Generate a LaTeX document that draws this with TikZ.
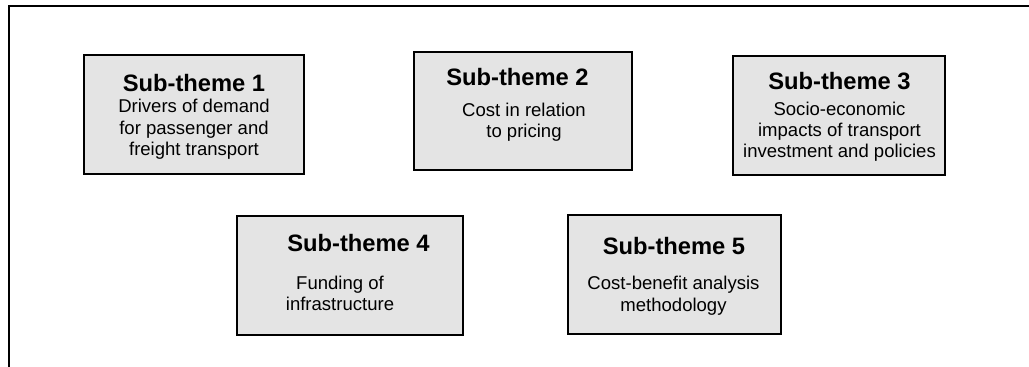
\documentclass[tikz,border=0pt]{standalone}
\usepackage{fontspec}
\setmainfont{Liberation Sans}
\usepackage{tikz}
\usetikzlibrary{positioning}

\definecolor{boxgray}{RGB}{228,228,228}

\tikzset{
  theme/.style={draw=black, fill=boxgray, line width=1.5pt, inner sep=0pt},
  heading/.style={anchor=base, inner sep=0pt, font=\fontsize{17.8}{20}\selectfont\bfseries},
  blurb/.style={anchor=base, inner sep=0pt, align=center, font=\fontsize{13.9}{16.1}\selectfont}
}

\begin{document}
\begin{tikzpicture}[x=0.75pt,y=-0.75pt]

  \useasboundingbox (0,0) rectangle (1029,367);

  \coordinate (frame_nw) at (9,6);
  \coordinate (frame_ne) at (1029,6);
  \coordinate (frame_sw) at (9,367);
  \draw[line width=1.6pt] (frame_ne) -- (frame_nw) -- (frame_sw);

  %==================================================

  \node[theme, minimum width=165pt, minimum height=89.5pt] (st_1) at (194,114.5) {};
  \node[theme, minimum width=163.5pt, minimum height=89pt] (st_2) at (523,111) {};
  \node[theme, minimum width=159pt, minimum height=89.5pt] (st_3) at (839,115.5) {};

  \node[theme, minimum width=169.5pt, minimum height=89.5pt] (st_4) at (350,275.5) {};
  \node[theme, minimum width=160pt, minimum height=89.5pt] (st_5) at (674.5,274.5) {};

  %==================================================

  % blurbs sit on the baseline of their last line
  \node[heading] (st_1_head) at (194,92) {Sub-theme 1};
  \node[blurb] (st_1_text) at (194,155.7) {Drivers of demand\\for passenger and\\freight transport};

  \node[heading] (st_2_head) at (517.5,86) {Sub-theme 2};
  \node[blurb] (st_2_text) at (524,138) {Cost in relation\\to pricing};

  \node[heading] (st_3_head) at (839.5,90) {Sub-theme 3};
  \node[blurb] (st_3_text) at (839.5,158) {Socio-economic\\impacts of transport\\investment and policies};

  \node[heading] (st_4_head) at (358.5,251.7) {Sub-theme 4};
  \node[blurb] (st_4_text) at (340,310.7) {Funding of\\infrastructure};

  \node[heading] (st_5_head) at (674,255) {Sub-theme 5};
  \node[blurb] (st_5_text) at (673.5,311) {Cost-benefit analysis\\methodology};

\end{tikzpicture}
\end{document}
